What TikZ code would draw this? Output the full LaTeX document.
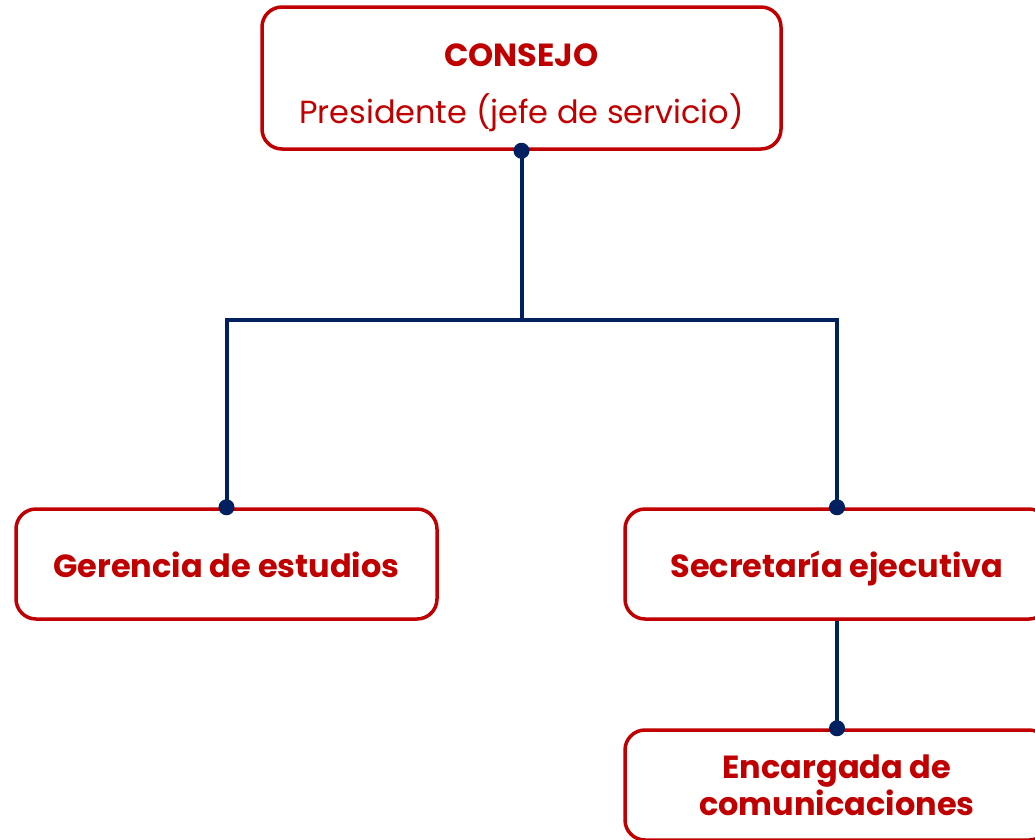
\documentclass[tikz,border=0pt]{standalone}
\usepackage{fontspec}
\setmainfont{Poppins}
\usepackage{xcolor}
\usepackage{tikz}
\usetikzlibrary{positioning, calc}
\definecolor{boxred}{RGB}{192, 0, 0}
\definecolor{linknavy}{RGB}{0, 32, 96}

\begin{document}
\begin{tikzpicture}[x=1pt, y=-1pt,
    box/.style={draw=boxred, line width=3.5pt, rounded corners=20pt, text=boxred, minimum width=421pt, minimum height=110pt, align=center, font=\fontsize{32}{37}\selectfont\bfseries},
    single/.style={text height=26pt, text depth=0pt},
    link/.style={draw=linknavy, line width=4pt},
    joint/.style={fill=linknavy}
]
    \useasboundingbox (0,0) rectangle (1035,839);

    \node[box, minimum width=519pt, minimum height=142pt, font=\fontsize{32}{57}\selectfont] (consejo) at (521.5, 78) {\rule{0pt}{43pt}\textbf{CONSEJO}\\Presidente (jefe de servicio)};
    \node[box, single] (gerencia) at (226.5, 564) {Gerencia de estudios};
    \node[box, single, minimum width=424pt] (secretaria) at (837, 564) {Secretaría ejecutiva};
    \node[box, minimum width=424pt] (encargada) at (837, 785) {Encargada de\\comunicaciones};

    \coordinate (split) at (consejo.south |- 0,320);
    \draw[link] (consejo.south) -- (split) -| (gerencia.north);
    \draw[link] (split) -| (secretaria.north);
    \draw[link] (secretaria.south) -- (encargada.north);

    \fill[joint] (consejo.south) circle (8pt);
    \fill[joint] (gerencia.north) circle (8pt);
    \fill[joint] (secretaria.north) circle (8pt);
    \fill[joint] (encargada.north) circle (8pt);
\end{tikzpicture}
\end{document}
